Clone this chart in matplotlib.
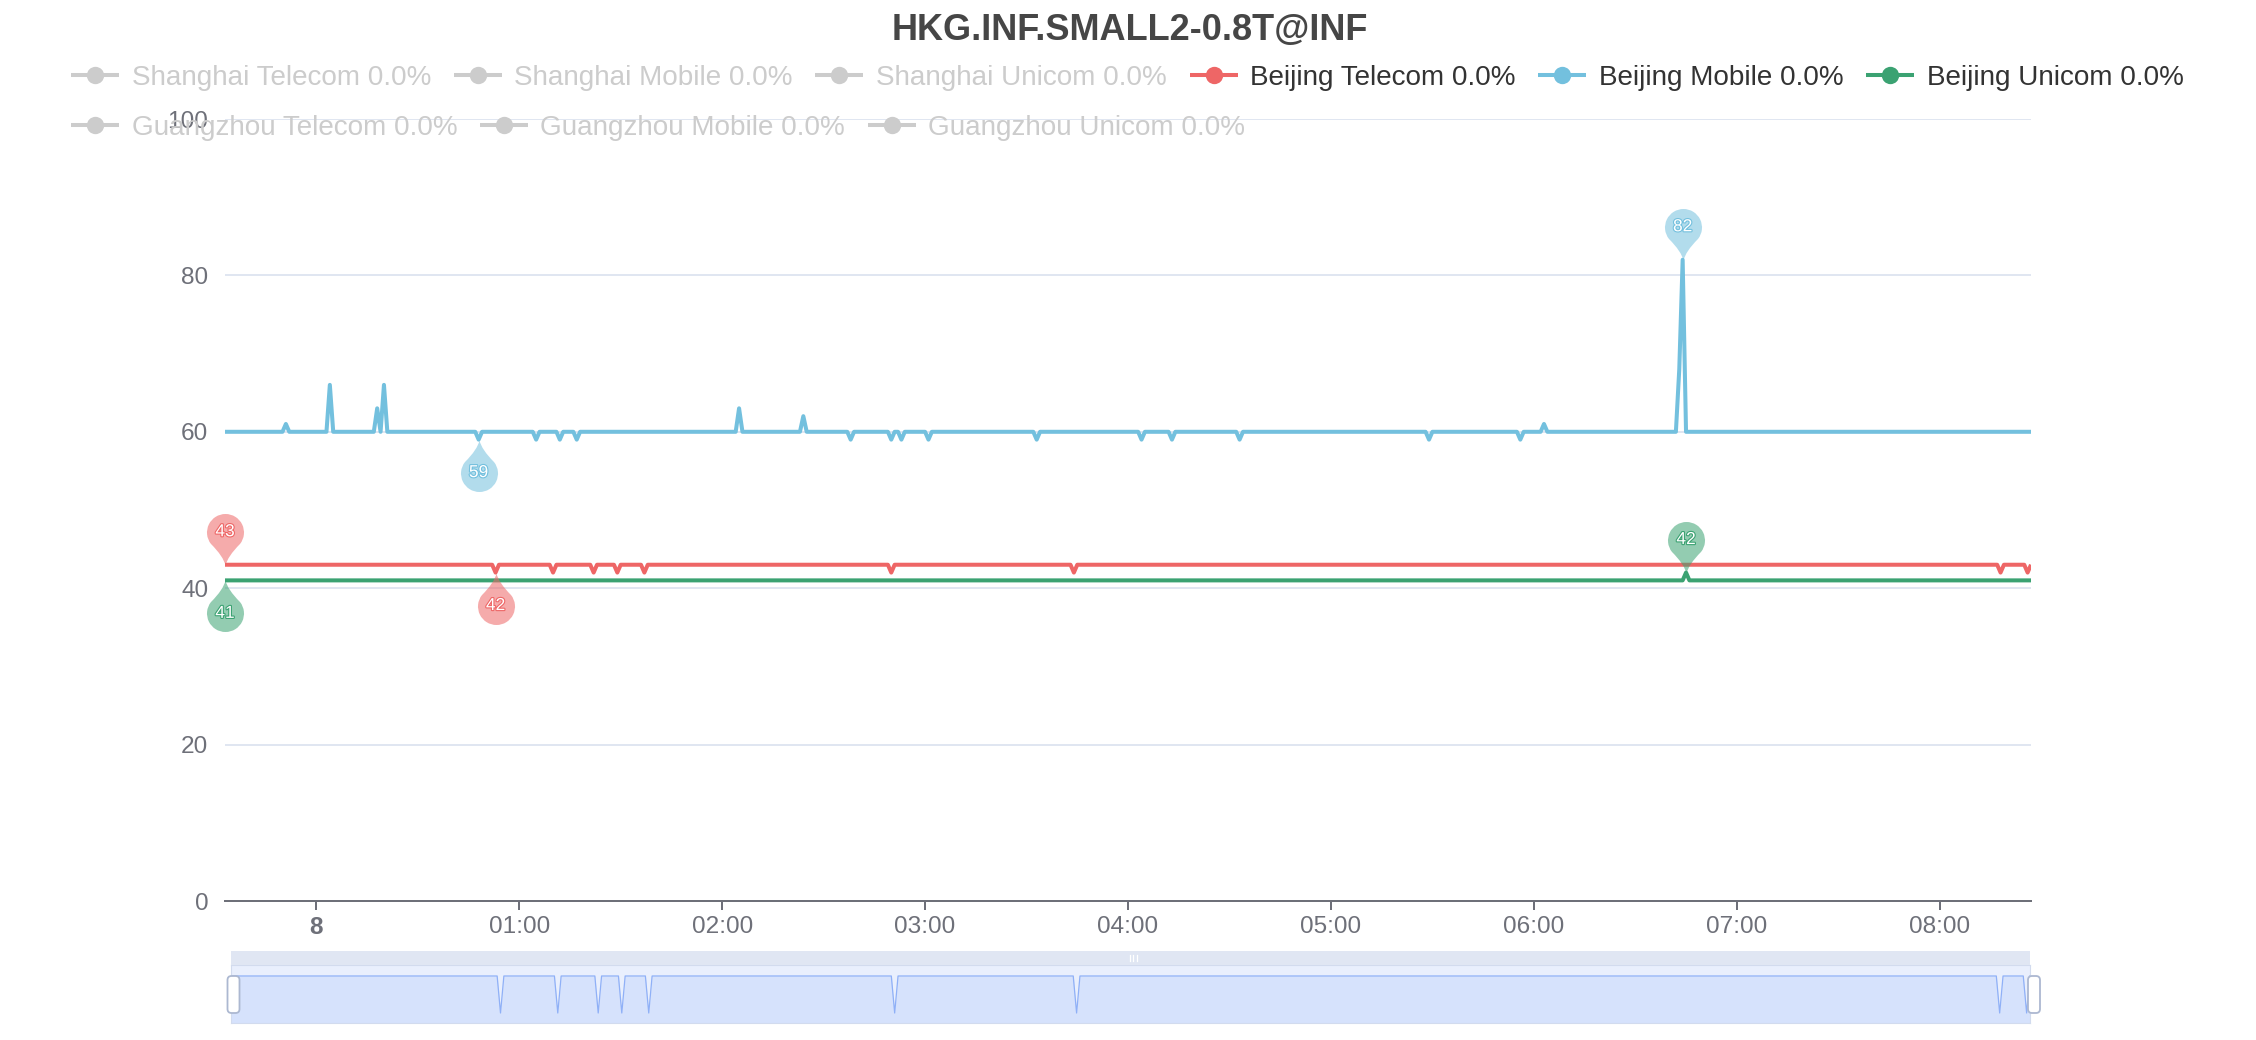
import numpy as np
import matplotlib.pyplot as plt
from matplotlib.path import Path
from matplotlib.patches import Rectangle, FancyBboxPatch
import matplotlib.patheffects as pe

plt.rcParams['font.family'] = ['Liberation Sans', 'DejaVu Sans']

W, H = 2256, 1040

title = 'HKG.INF.SMALL2-0.8T@INF'

# minutes after midnight, one sample a minute
minutes = np.arange(-27, 508)
hour_ticks = [0, 60, 120, 180, 240, 300, 360, 420, 480]
hour_labels = ['8', '01:00', '02:00', '03:00', '04:00', '05:00', '06:00', '07:00', '08:00']

# each series sits on a flat level, these are the minutes where it leaves it
telecom_base = 43
telecom_dev_t = [53, 70, 82, 89, 97, 170, 224, 498, 506]
telecom_dev_v = [42, 42, 42, 42, 42, 42, 42, 42, 42]

mobile_base = 60
mobile_dev_t = [-9, 4, 18, 20, 48, 65, 72, 77, 125, 144, 158, 170, 173, 181,
                213, 244, 253, 273, 329, 356, 363, 403, 404]
mobile_dev_v = [61, 66, 63, 66, 59, 59, 59, 59, 63, 62, 59, 59, 59, 59,
                59, 59, 59, 59, 59, 59, 61, 68, 82]

unicom_base = 41
unicom_dev_t = [405]
unicom_dev_v = [42]

legend_names = ['Shanghai Telecom', 'Shanghai Mobile', 'Shanghai Unicom',
                'Beijing Telecom', 'Beijing Mobile', 'Beijing Unicom',
                'Guangzhou Telecom', 'Guangzhou Mobile', 'Guangzhou Unicom']
legend_pct = [0.0, 0.0, 0.0, 0.0, 0.0, 0.0, 0.0, 0.0, 0.0]
legend_on = [False, False, False, True, True, True, False, False, False]

RED, BLUE, GREEN = '#ee6666', '#73c0de', '#3ba272'
legend_colors = ['#cccccc', '#cccccc', '#cccccc', RED, BLUE, GREEN,
                 '#cccccc', '#cccccc', '#cccccc']
AXC = '#6e7079'


def build(base, dev_t, dev_v):
    y = np.full(minutes.shape, base, dtype=float)
    y[np.searchsorted(minutes, dev_t)] = dev_v
    return y


telecom = build(telecom_base, telecom_dev_t, telecom_dev_v)
mobile = build(mobile_base, mobile_dev_t, mobile_dev_v)
unicom = build(unicom_base, unicom_dev_t, unicom_dev_v)

fig = plt.figure(figsize=(W / 100, H / 100), dpi=100, facecolor='white')

# main plot
ax = fig.add_axes([225 / W, 1 - 901 / H, (2031 - 225) / W, (901 - 119) / H])
ax.set_xlim(-27, 507)
ax.set_ylim(0, 100)
ax.set_yticks([0, 20, 40, 60, 80, 100])
ax.set_xticks(hour_ticks)
ax.set_xticklabels(hour_labels)
ax.get_xticklabels()[0].set_fontweight('bold')
ax.grid(axis='y', color='#e0e6f1', lw=1.44)
ax.set_axisbelow(True)
for s in ['left', 'right', 'top']:
    ax.spines[s].set_visible(False)
ax.spines['bottom'].set_color(AXC)
ax.spines['bottom'].set_linewidth(1.44)
ax.tick_params(axis='x', length=6.5, width=1.44, color=AXC, labelcolor=AXC,
               labelsize=17.6, pad=4)
ax.tick_params(axis='y', length=0, labelcolor=AXC, labelsize=17.6, pad=12)

for ys, col in [(telecom, RED), (mobile, BLUE), (unicom, GREEN)]:
    ax.plot(minutes, ys, color=col, lw=2.9, solid_joinstyle='round',
            solid_capstyle='butt', zorder=3)

# pin shaped markers for max / min
r, c = 18.5, 33.0
arc = Path.arc(-38, 218)
verts = list(arc.vertices * r + [0, c])
codes = list(arc.codes)
p0 = verts[0]
verts += [(-2.0, 9.0), (0.0, 0.0), (2.0, 9.0), tuple(p0), tuple(p0)]
codes += [Path.CURVE3, Path.CURVE3, Path.CURVE3, Path.CURVE3, Path.CLOSEPOLY]
verts = np.array(verts)
pin_up = Path(verts, codes)
pin_down = Path(verts * [1, -1], codes)
ms = 2 * np.max(np.abs(verts)) * 0.72

for ys, col in [(telecom, RED), (mobile, BLUE), (unicom, GREEN)]:
    for idx, pin, off in [(np.argmax(ys), pin_up, c), (np.argmin(ys), pin_down, -c)]:
        ax.plot([minutes[idx]], [ys[idx]], marker=pin, markersize=ms, color=col,
                alpha=0.55, markeredgewidth=0, ls='none', clip_on=False, zorder=5)
        ax.annotate(f'{ys[idx]:.0f}', (minutes[idx], ys[idx]), xytext=(0, off * 0.72),
                    textcoords='offset points', ha='center', va='center',
                    fontsize=12.5, color='white', zorder=6,
                    path_effects=[pe.withStroke(linewidth=1.6, foreground=col)])

# data zoom slider
dz = fig.add_axes([231 / W, 1 - 1023 / H, (2030 - 231) / W, (1023 - 965) / H])
dz.set_xlim(-27, 507)
dz.set_ylim(41.73, 43.297)
dz.set_facecolor('#e9effd')
dz.fill_between(minutes, telecom, 41.73, color='#d6e2fc', lw=0)
dz.plot(minutes, telecom, color='#8fb0f7', lw=0.9)
dz.set_xticks([])
dz.set_yticks([])
for s in dz.spines.values():
    s.set_color('#d2dbee')
    s.set_linewidth(0.8)

# overlay in pixel units for title, legend and slider chrome
ov = fig.add_axes([0, 0, 1, 1], zorder=10)
ov.set_xlim(0, W)
ov.set_ylim(H, 0)
ov.axis('off')
ov.patch.set_alpha(0)

ov.text(1130, 40, title, ha='center', va='baseline', fontsize=26,
        fontweight='bold', color='#464646')

ov.add_patch(Rectangle((231, 951), 1799, 14, color='#e0e6f3', lw=0))
for gx in [1129.5, 1133, 1136.5]:
    ov.plot([gx, gx], [955, 961], color='white', lw=0.9)
for hx in [227.5, 2028]:
    ov.add_patch(FancyBboxPatch((hx, 976), 12, 37, boxstyle='round,pad=0,rounding_size=4',
                                fc='white', ec='#acb8d1', lw=1.3))

renderer = fig.canvas.get_renderer()
rows = [range(0, 6), range(6, 9)]
for row_i, row in enumerate(rows):
    yc = 75 + 50 * row_i
    x = 71
    for i in row:
        col = legend_colors[i]
        ov.plot([x, x + 48], [yc, yc], color=col, lw=2.9, solid_capstyle='butt')
        ov.plot([x + 24], [yc], marker='o', markersize=12.5, color=col, markeredgewidth=0)
        t = ov.text(x + 60.5, yc + 10, f'{legend_names[i]} {legend_pct[i]:.1f}%',
                    ha='left', va='baseline', fontsize=20.05,
                    color='#333333' if legend_on[i] else '#cccccc')
        w = t.get_window_extent(renderer).width
        x = x + 60.5 + w + 22.8

fig.savefig('out.png', dpi=100, facecolor='white')
